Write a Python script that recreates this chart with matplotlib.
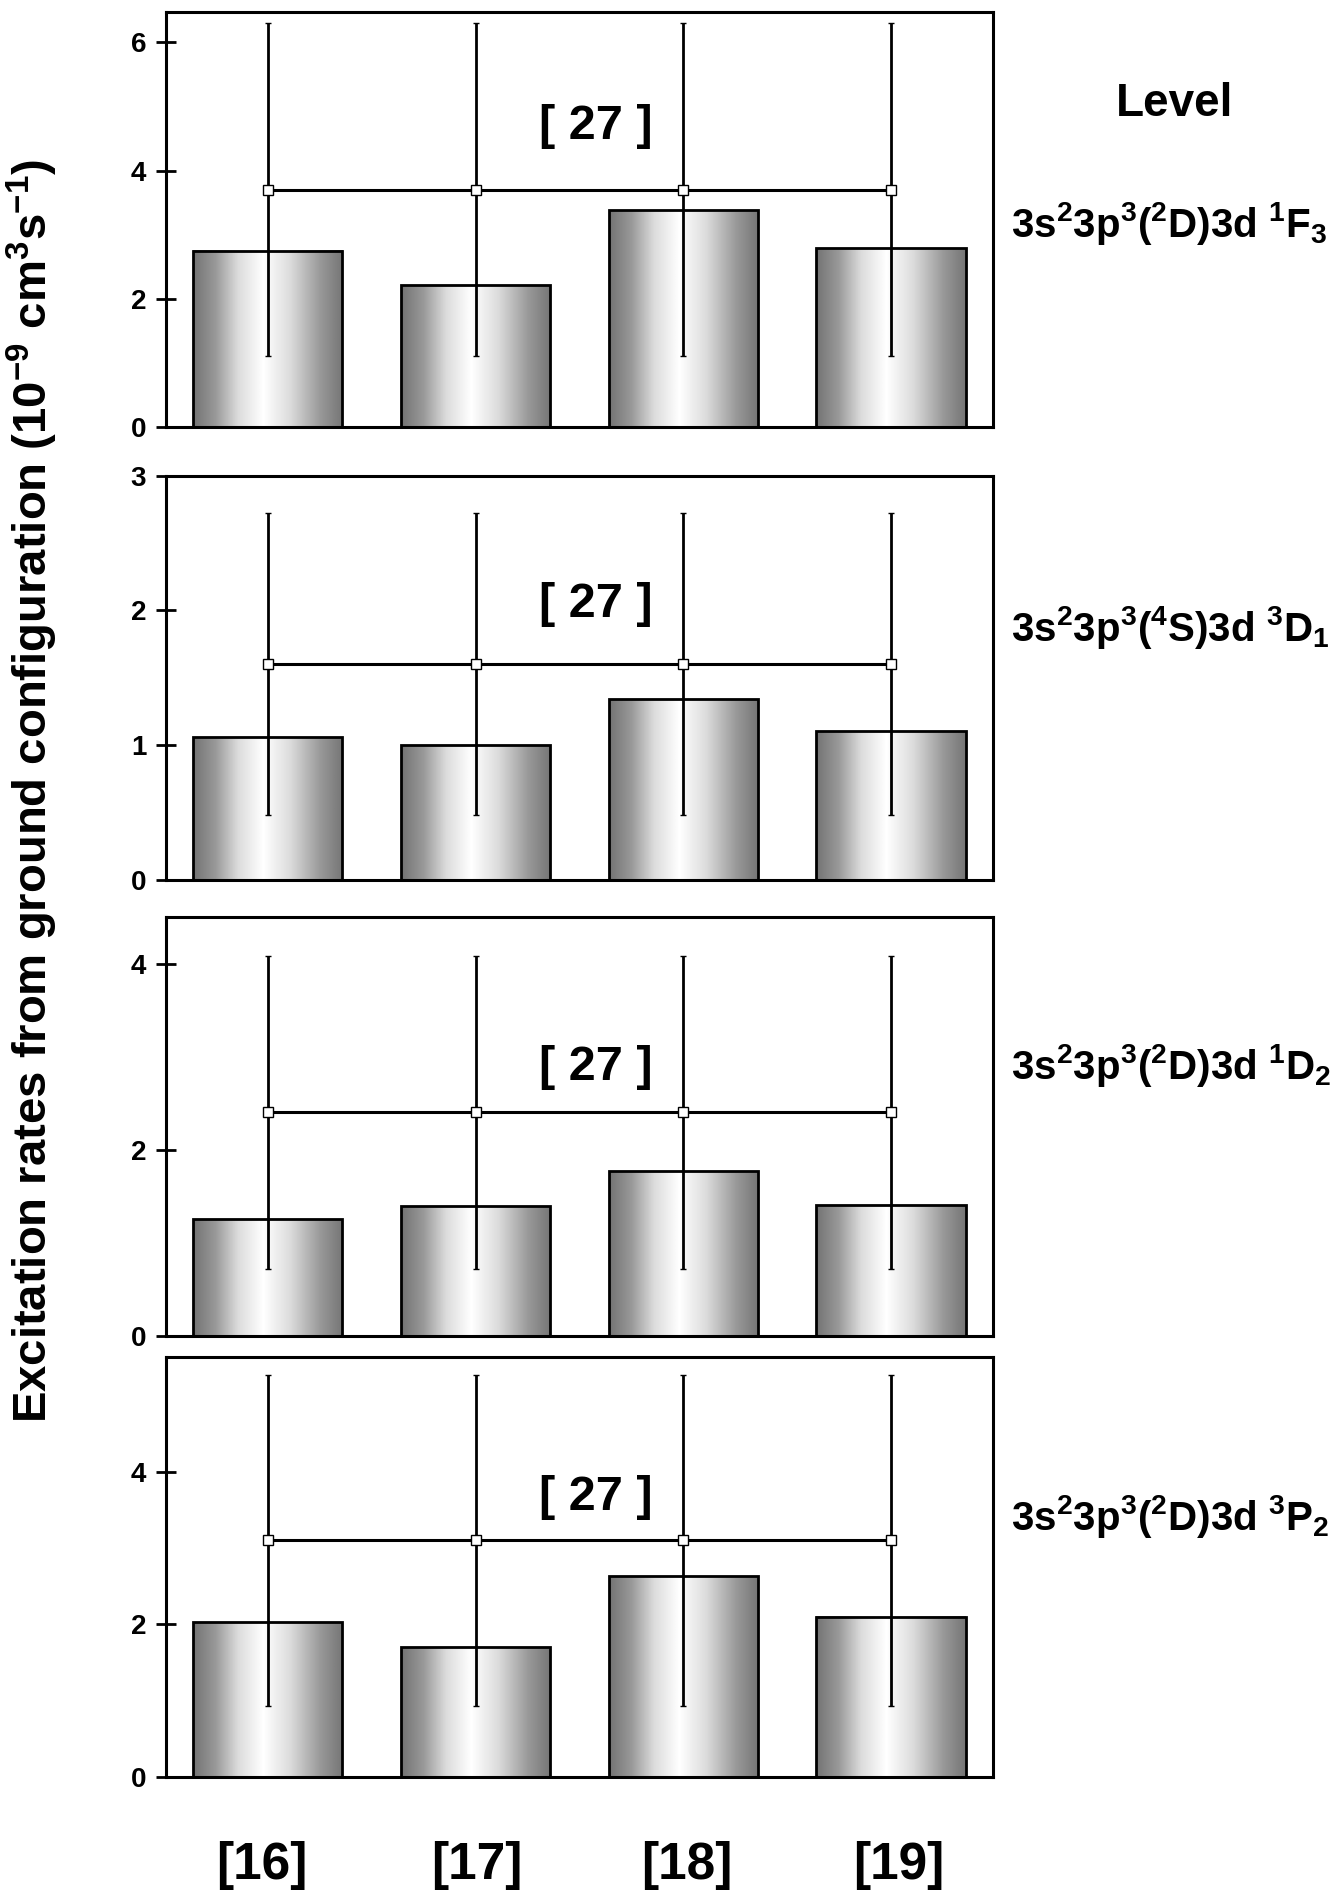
import numpy as np
import matplotlib
matplotlib.use('Agg')
import matplotlib.pyplot as plt

plt.rcParams['font.family'] = ['Liberation Sans', 'DejaVu Sans']
plt.rcParams['font.weight'] = 'bold'
plt.rcParams['mathtext.default'] = 'regular'

# data
refs = ['[16]', '[17]', '[18]', '[19]']
levels = [r'3s$^{2}$3p$^{3}$($^{2}$D)3d $^{1}$F$_{3}$',
          r'3s$^{2}$3p$^{3}$($^{4}$S)3d $^{3}$D$_{1}$',
          r'3s$^{2}$3p$^{3}$($^{2}$D)3d $^{1}$D$_{2}$',
          r'3s$^{2}$3p$^{3}$($^{2}$D)3d $^{3}$P$_{2}$']
rates_1F3 = [2.75, 2.21, 3.38, 2.79]
rates_3D1 = [1.06, 1.00, 1.34, 1.10]
rates_1D2 = [1.25, 1.39, 1.77, 1.40]
rates_3P2 = [2.03, 1.70, 2.63, 2.10]
ref27_value = [3.70, 1.60, 2.40, 3.10]   # [27] value for each level
ref27_error = [2.60, 1.12, 1.68, 2.17]   # symmetric uncertainty of [27]
ytops = [6.47, 3.0, 4.5, 5.5]
yticks = [[0, 2, 4, 6], [0, 1, 2, 3], [0, 2, 4], [0, 2, 4]]

all_rates = [rates_1F3, rates_3D1, rates_1D2, rates_3P2]

# layout (figure fractions)
ax_left, ax_width = 0.1233, 0.6157
ax_boxes = [(0.7748, 0.2188), (0.5361, 0.2131), (0.2956, 0.2207), (0.0628, 0.2214)]
label27_y = [0.725, 0.68, 0.64, 0.665]
level_y = [0.882, 0.669, 0.438, 0.200]
ref_label_x = [-0.03, 1.005, 2.015, 3.035]

fig = plt.figure(figsize=(13.44, 18.96), dpi=100)

t = np.linspace(0, 1, 256)
shade = np.interp(t, [0, 0.15, 0.3, 0.47, 0.65, 0.85, 1],
                  [0.45, 0.6, 0.86, 1.0, 0.86, 0.6, 0.46])
grad = shade[np.newaxis, :]

x = np.arange(len(refs))
for i, rates in enumerate(all_rates):
    b, h = ax_boxes[i]
    ax = fig.add_axes([ax_left, b, ax_width, h])
    bars = ax.bar(x, rates, width=0.72, facecolor='none', edgecolor='black',
                  linewidth=2, zorder=2)
    for p in bars:
        x0, w, hh = p.get_x(), p.get_width(), p.get_height()
        ax.imshow(grad, extent=[x0, x0 + w, 0, hh], aspect='auto', cmap='gray',
                  vmin=0, vmax=1, interpolation='bilinear', zorder=1)
    ax.errorbar(x, [ref27_value[i]] * len(x), yerr=ref27_error[i], fmt='-s',
                color='black', lw=2.2, elinewidth=2.0, capsize=2.5, capthick=2.5,
                ms=7.5, mfc='white', mec='black', mew=1, zorder=3)
    ax.text(1.58, label27_y[i], '[ 27 ]', transform=ax.get_xaxis_transform(),
            ha='center', va='center', fontsize=35, fontweight='bold')
    ax.set_xlim(-0.49, 3.49)
    ax.set_ylim(0, ytops[i])
    ax.set_yticks(yticks[i], [str(v) for v in yticks[i]], fontsize=20,
                  fontweight='bold')
    ax.tick_params(axis='y', direction='inout', length=14, width=2, pad=7)
    for s in ax.spines.values():
        s.set_linewidth(2.2)
    if i == 3:
        ax.set_xticks(ref_label_x)
        ax.set_xticklabels(refs, fontsize=37, fontweight='bold')
        ax.tick_params(axis='x', length=0, pad=46)
    else:
        ax.tick_params(axis='x', bottom=False, labelbottom=False)
    fig.text(0.752, level_y[i], levels[i], ha='left', va='center',
             fontsize=29, fontweight='bold')

fig.text(0.874, 0.945, 'Level', ha='center', va='center', fontsize=33,
         fontweight='bold')
fig.text(0.024, 0.583,
         r'Excitation rates from ground configuration (10$^{-9}$ cm$^{3}$s$^{-1}$)',
         rotation=90, ha='center', va='center', fontsize=34, fontweight='bold')

fig.savefig('out.png', dpi=100)
